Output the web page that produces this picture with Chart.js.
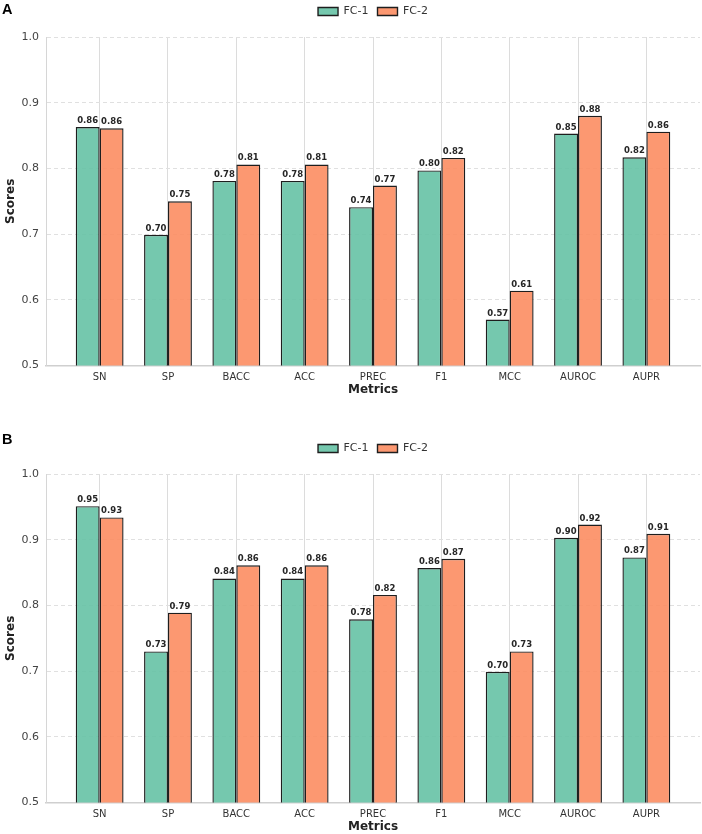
<!DOCTYPE html>
<html>
<head>
<meta charset="utf-8">
<script src="https://cdn.jsdelivr.net/npm/chart.js@4.4.0/dist/chart.umd.min.js"></script>
<style>
  html, body { margin: 0; padding: 0; background: #fff; }
  #page { position: relative; width: 702px; height: 834px; overflow: hidden; }
  .panel { position: absolute; left: 0; }
  .tag { position: absolute; left: 2px; font: bold 14.5px "Liberation Sans", Arial, sans-serif; line-height: 1; color: #000; }
</style>
</head>
<body>
<div id="page">
  <div class="panel" style="top:0"><canvas id="chartA" width="702" height="397"></canvas></div>
  <div class="panel" style="top:437px"><canvas id="chartB" width="702" height="397"></canvas></div>
  <div class="tag" style="top:2px">A</div>
  <div class="tag" style="top:432px">B</div>
</div>
<script>
// data
const metrics = ['SN', 'SP', 'BACC', 'ACC', 'PREC', 'F1', 'MCC', 'AUROC', 'AUPR'];
const seriesNames = ['FC-1', 'FC-2'];

// panel A
const fc1A = [0.863, 0.699, 0.781, 0.781, 0.741, 0.797, 0.570, 0.853, 0.817];
const fc2A = [0.861, 0.750, 0.806, 0.806, 0.774, 0.816, 0.614, 0.880, 0.856];

// panel B
const fc1B = [0.951, 0.730, 0.841, 0.841, 0.779, 0.857, 0.699, 0.903, 0.873];
const fc2B = [0.934, 0.789, 0.861, 0.861, 0.816, 0.871, 0.730, 0.923, 0.909];

const yTicks = [0.5, 0.6, 0.7, 0.8, 0.9, 1.0];

Chart.defaults.font.family = '"DejaVu Sans", sans-serif';
Chart.defaults.color = '#333';

// numbers above the bars
const valueLabels = {
    id: 'valueLabels',
    afterDatasetsDraw(chart) {
        const ctx = chart.ctx;
        ctx.save();
        ctx.font = 'bold 8.5px "DejaVu Sans", sans-serif';
        ctx.fillStyle = '#262626';
        ctx.textAlign = 'center';
        ctx.textBaseline = 'alphabetic';
        chart.data.datasets.forEach((ds, i) => {
            chart.getDatasetMeta(i).data.forEach((bar, j) => {
                ctx.fillText(ds.data[j].y.toFixed(2), bar.x, bar.y - 4);
            });
        });
        ctx.restore();
    }
};

function makeChart(id, fc1, fc2) {
    const ctx = document.getElementById(id).getContext('2d');
    return new Chart(ctx, {
        type: 'bar',
        data: {
            datasets: [
                {
                    label: seriesNames[0],
                    data: fc1.map((v, i) => ({ x: i, y: v })),
                    backgroundColor: 'rgba(102,194,165,0.9)',
                    borderColor: '#1e1e1e',
                    borderWidth: 1.4
                },
                {
                    label: seriesNames[1],
                    data: fc2.map((v, i) => ({ x: i, y: v })),
                    backgroundColor: 'rgba(252,141,98,0.9)',
                    borderColor: '#1e1e1e',
                    borderWidth: 1.4
                }
            ]
        },
        options: {
            responsive: false,
            animation: false,
            categoryPercentage: 0.7,
            barPercentage: 1.0,
            layout: { padding: { top: -3, right: 2, bottom: 0, left: 0 } },
            plugins: {
                tooltip: { enabled: false },
                legend: {
                    position: 'top',
                    fullSize: false,
                    labels: {
                        boxWidth: 20,
                        boxHeight: 8,
                        padding: 9,
                        color: '#333',
                        font: { size: 11 }
                    }
                }
            },
            scales: {
                x: {
                    type: 'linear',
                    bounds: 'data',
                    offset: false,
                    min: -0.785,
                    max: metrics.length - 1 + 0.785,
                    afterBuildTicks: (scale) => {
                        scale.ticks = metrics.map((m, i) => ({ value: i }));
                    },
                    ticks: {
                        autoSkip: false,
                        maxRotation: 0,
                        padding: 6,
                        color: '#333',
                        font: { size: 10 },
                        callback: (v) => metrics[v] ?? ''
                    },
                    grid: { offset: false, color: '#dcdcdc', lineWidth: 1, drawTicks: false },
                    border: { display: true, color: '#cfcfcf', width: 1.5 },
                    title: {
                        display: true,
                        text: 'Metrics',
                        color: '#222',
                        font: { size: 12, weight: 'bold' },
                        padding: { top: -7, bottom: 0 }
                    }
                },
                // empty top axis, only used as a gap under the legend
                xTop: {
                    type: 'linear',
                    position: 'top',
                    grid: { display: false },
                    border: { display: false },
                    ticks: { display: false },
                    afterFit: (scale) => { scale.height = 10; }
                },
                y: {
                    min: yTicks[0],
                    max: yTicks[yTicks.length - 1],
                    afterFit: (scale) => { scale.width = 46; },
                    ticks: {
                        stepSize: 0.1,
                        padding: 7,
                        color: '#444',
                        font: { size: 11 },
                        callback: (v) => v.toFixed(1)
                    },
                    grid: { color: '#e0e0e0', lineWidth: 1, drawTicks: false },
                    border: { display: true, color: '#d6d6d6', width: 1, dash: [4, 3] },
                    title: {
                        display: true,
                        text: 'Scores',
                        color: '#222',
                        font: { size: 12, weight: 'bold' },
                        padding: { top: 4, bottom: 0 }
                    }
                }
            }
        },
        plugins: [valueLabels]
    });
}

makeChart('chartA', fc1A, fc2A);
makeChart('chartB', fc1B, fc2B);
</script>
</body>
</html>
